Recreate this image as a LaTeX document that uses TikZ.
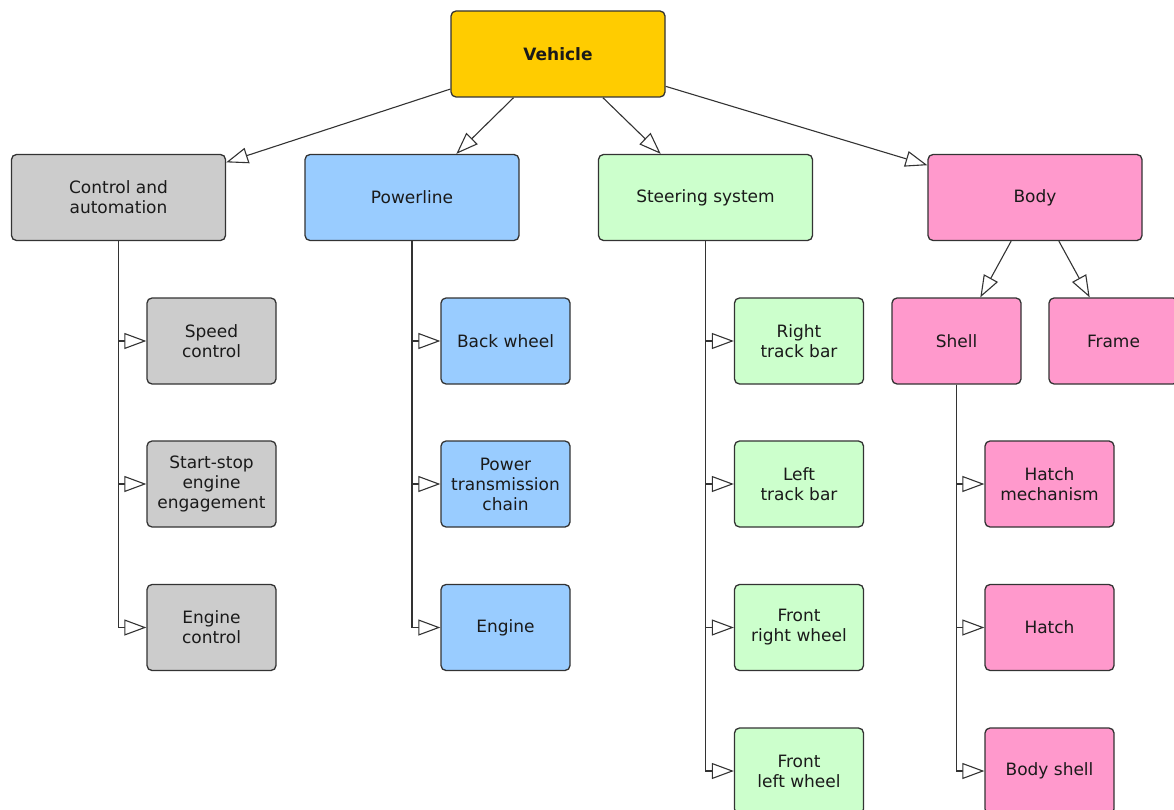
\documentclass[tikz,border=0pt]{standalone}
\usepackage{fontspec}
\setmainfont{DejaVu Sans}
\usetikzlibrary{arrows.meta}
\definecolor{boxline}{HTML}{333333}
\definecolor{txt}{HTML}{1A1A1A}
\definecolor{cgold}{HTML}{FFCC00}
\definecolor{cgray}{HTML}{CCCCCC}
\definecolor{cblue}{HTML}{99CCFF}
\definecolor{cgreen}{HTML}{CCFFCC}
\definecolor{cpink}{HTML}{FF99CC}
\tikzset{
  box/.style={draw=boxline, line width=1.3pt, rounded corners=5pt,
    minimum width=#1, minimum height=86pt, inner sep=2pt, align=center,
    text=txt, font=\fontsize{17}{20}\selectfont},
  bigbox/.style={box=214pt},
  smallbox/.style={box=129pt},
  tri/.style={draw=boxline, line width=1.1pt,
    -{Triangle[length=22pt,width=16pt,fill=white,line width=1.1pt]}},
}
\begin{document}
\begin{tikzpicture}[x=1pt,y=-1pt]
\useasboundingbox (0,0) rectangle (1174,810);
\clip (0,0) rectangle (1174,810);

% top level
\node[bigbox, fill=cgold, font=\fontsize{17}{20}\selectfont\bfseries] (vehicle) at (558,54) {Vehicle};

% second level
\node[bigbox, fill=cgray]  (ctrl)  at (118.5,197.5) {Control and\\automation};
\node[bigbox, fill=cblue]  (power) at (412,197.5)   {Powerline};
\node[bigbox, fill=cgreen] (steer) at (705.5,197.5) {Steering system};
\node[bigbox, fill=cpink]  (body)  at (1035,197.5)  {Body};

% control and automation
\node[smallbox, fill=cgray] (speed)  at (211.5,341) {Speed\\control};
\node[smallbox, fill=cgray] (start)  at (211.5,484) {Start-stop\\engine\\engagement};
\node[smallbox, fill=cgray] (engctl) at (211.5,627.5) {Engine\\control};

% powerline
\node[smallbox, fill=cblue] (back)   at (505.5,341) {Back wheel};
\node[smallbox, fill=cblue] (chain)  at (505.5,484) {Power\\transmission\\chain};
\node[smallbox, fill=cblue] (engine) at (505.5,627.5) {Engine};

% steering system
\node[smallbox, fill=cgreen] (rtrack) at (799,341) {Right\\track bar};
\node[smallbox, fill=cgreen] (ltrack) at (799,484) {Left\\track bar};
\node[smallbox, fill=cgreen] (frwheel) at (799,627.5) {Front\\right wheel};
\node[smallbox, fill=cgreen] (flwheel) at (799,771) {Front\\left wheel};

% body
\node[smallbox, fill=cpink] (shell) at (956.5,341) {Shell};
\node[smallbox, fill=cpink] (frame) at (1113.5,341) {Frame};
\node[smallbox, fill=cpink] (hatchm) at (1049.5,484) {Hatch\\mechanism};
\node[smallbox, fill=cpink] (hatch)  at (1049.5,627.5) {Hatch};
\node[smallbox, fill=cpink] (bshell) at (1049.5,771) {Body shell};

% connectors from the top
\draw[tri] (vehicle) -- (ctrl);
\draw[tri] (vehicle) -- (power);
\draw[tri] (vehicle) -- (steer);
\draw[tri] (vehicle) -- (body);
\draw[tri] (body) -- (shell);
\draw[tri] (body) -- (frame);

% trunk connectors
\foreach \c in {speed,start,engctl} \draw[tri] (ctrl.south) |- (\c.west);
\foreach \c in {back,chain,engine} \draw[tri] (power.south) |- (\c.west);
\foreach \c in {rtrack,ltrack,frwheel,flwheel} \draw[tri] (steer.south) |- (\c.west);
\foreach \c in {hatchm,hatch,bshell} \draw[tri] (shell.south) |- (\c.west);
\end{tikzpicture}
\end{document}
